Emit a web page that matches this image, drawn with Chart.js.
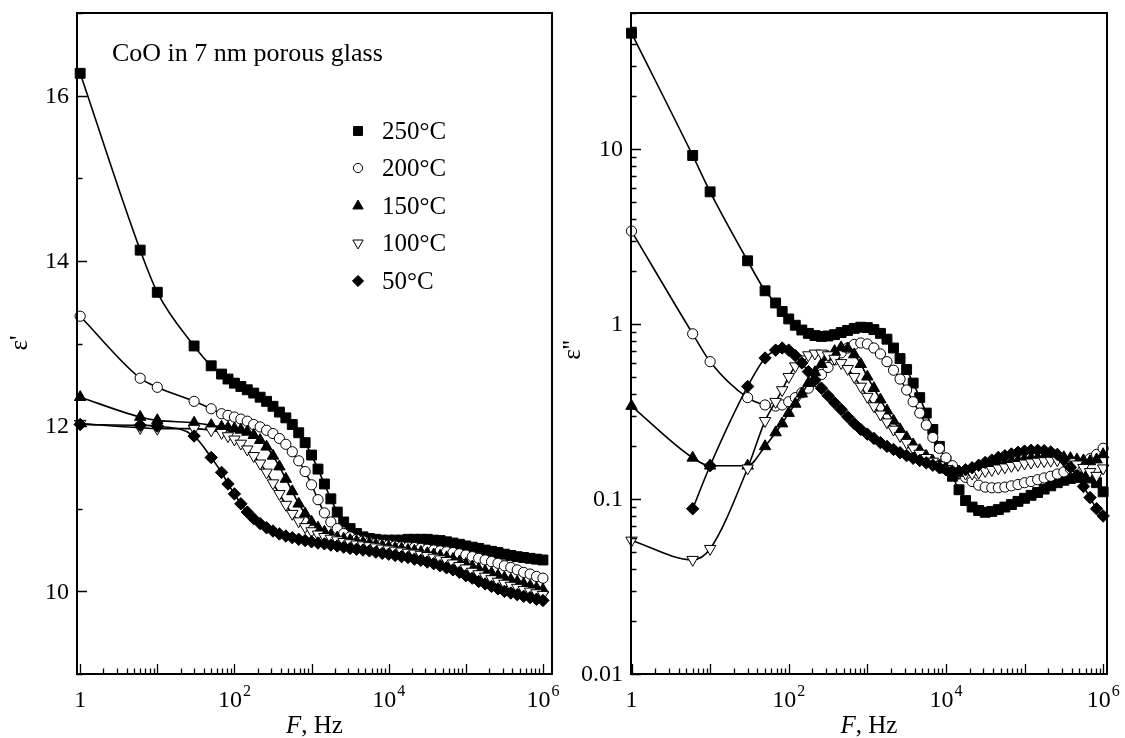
<!DOCTYPE html>
<html>
<head>
<meta charset="utf-8">
<script src="https://cdn.jsdelivr.net/npm/chart.js@4/dist/chart.umd.min.js"></script>
<style>
body { margin: 0; background: #fff; width: 1125px; height: 738px; overflow: hidden; position: relative; }
#c1 { position: absolute; left: 0; top: 0; }
#c2 { position: absolute; left: 560px; top: 0; }
</style>
</head>
<body>
<canvas id="c1" width="560" height="738"></canvas>
<canvas id="c2" width="565" height="738"></canvas>
<script>
// frequencies, Hz: 5 sparse points, then 12 per decade
const freq = [1, 6, 10, 30, 50,
  68.13, 82.54,
  100, 121.2, 146.8, 177.8, 215.4, 261.0, 316.2, 383.1, 464.2, 562.3, 681.3, 825.4,
  1000, 1212, 1468, 1778, 2154, 2610, 3162, 3831, 4642, 5623, 6813, 8254,
  10000, 12115, 14678, 17783, 21544, 26102, 31623, 38312, 46416, 56234, 68129, 82540,
  100000, 121153, 146780, 177828, 215443, 261016, 316228, 383119, 464159, 562341, 681292, 825404,
  1000000];

const seriesNames = ['250°C', '200°C', '150°C', '100°C', '50°C'];

// eps' (left panel)
const eps1_250 = [16.27, 14.13, 13.62, 12.97, 12.73,
  12.63, 12.57,
  12.52, 12.48, 12.44, 12.40, 12.35, 12.30, 12.24, 12.17, 12.10, 12.02, 11.92, 11.80,
  11.65, 11.48, 11.30, 11.12, 10.96, 10.84, 10.76, 10.70, 10.66, 10.64, 10.63, 10.62,
  10.62, 10.62, 10.62, 10.63, 10.63, 10.63, 10.63, 10.62, 10.615, 10.60, 10.585, 10.57,
  10.55, 10.535, 10.52, 10.50, 10.485, 10.47, 10.45, 10.435, 10.42, 10.41, 10.40, 10.39,
  10.38];
const eps1_200 = [13.33, 12.58, 12.47, 12.30, 12.21,
  12.15, 12.13,
  12.11, 12.085, 12.06, 12.02, 11.99, 11.95, 11.91, 11.85, 11.78, 11.69, 11.58, 11.45,
  11.29, 11.11, 10.95, 10.84, 10.76, 10.70, 10.66, 10.63, 10.61, 10.59, 10.58, 10.57,
  10.56, 10.55, 10.54, 10.535, 10.53, 10.52, 10.51, 10.50, 10.49, 10.48, 10.47, 10.455,
  10.44, 10.42, 10.40, 10.38, 10.36, 10.34, 10.31, 10.29, 10.26, 10.23, 10.21, 10.18,
  10.16];
const eps1_150 = [12.35, 12.11, 12.07, 12.04, 12.01,
  11.99, 11.98,
  11.97, 11.955, 11.93, 11.89, 11.83, 11.75, 11.64, 11.51, 11.36, 11.21, 11.06, 10.94,
  10.84, 10.77, 10.72, 10.68, 10.65, 10.635, 10.62, 10.605, 10.59, 10.58, 10.565, 10.55,
  10.54, 10.525, 10.515, 10.50, 10.49, 10.475, 10.46, 10.445, 10.43, 10.41, 10.39, 10.36,
  10.33, 10.30, 10.27, 10.245, 10.22, 10.19, 10.165, 10.14, 10.115, 10.09, 10.065, 10.04,
  10.02];
const eps1_100 = [12.03, 11.98, 11.97, 11.97, 11.95,
  11.92, 11.88,
  11.84, 11.79, 11.72, 11.64, 11.55, 11.44, 11.31, 11.18, 11.05, 10.94, 10.85, 10.78,
  10.73, 10.69, 10.66, 10.64, 10.62, 10.60, 10.585, 10.57, 10.56, 10.55, 10.535, 10.52,
  10.51, 10.495, 10.485, 10.47, 10.46, 10.445, 10.43, 10.41, 10.39, 10.37, 10.34, 10.31,
  10.28, 10.24, 10.21, 10.18, 10.15, 10.12, 10.095, 10.07, 10.045, 10.02, 10.00, 9.98,
  9.96];
const eps1_50 = [12.02, 12.01, 12.00, 11.88, 11.62,
  11.44, 11.30,
  11.18, 11.06, 10.96, 10.88, 10.82, 10.77, 10.73, 10.695, 10.67, 10.65, 10.63, 10.615,
  10.60, 10.585, 10.575, 10.56, 10.55, 10.535, 10.52, 10.51, 10.50, 10.49, 10.475, 10.46,
  10.45, 10.435, 10.42, 10.41, 10.39, 10.375, 10.355, 10.335, 10.31, 10.285, 10.26, 10.23,
  10.19, 10.16, 10.12, 10.09, 10.06, 10.03, 10.00, 9.98, 9.96, 9.94, 9.925, 9.905,
  9.89];

// eps'' (right panel)
const eps2_250 = [46, 9.2, 5.7, 2.3, 1.55,
  1.32, 1.18,
  1.07, 0.985, 0.925, 0.885, 0.86, 0.85, 0.855, 0.87, 0.895, 0.92, 0.945, 0.96,
  0.955, 0.93, 0.885, 0.82, 0.73, 0.635, 0.55, 0.46, 0.38, 0.31, 0.25, 0.20,
  0.165, 0.135, 0.113, 0.098, 0.09, 0.086, 0.084, 0.085, 0.087, 0.09, 0.093, 0.097,
  0.101, 0.105, 0.109, 0.114, 0.119, 0.124, 0.128, 0.131, 0.133, 0.134, 0.132, 0.124,
  0.11];
const eps2_200 = [3.4, 0.88, 0.61, 0.38, 0.345,
  0.34, 0.345,
  0.36, 0.38, 0.405, 0.43, 0.47, 0.515, 0.565, 0.625, 0.685, 0.73, 0.765, 0.78,
  0.77, 0.73, 0.675, 0.61, 0.545, 0.485, 0.42, 0.36, 0.31, 0.265, 0.225, 0.195,
  0.172, 0.155, 0.142, 0.133, 0.126, 0.12, 0.117, 0.116, 0.116, 0.117, 0.119, 0.121,
  0.124, 0.126, 0.129, 0.132, 0.135, 0.139, 0.143, 0.149, 0.155, 0.162, 0.17, 0.18,
  0.195];
const eps2_150 = [0.34, 0.172, 0.155, 0.155, 0.20,
  0.24, 0.27,
  0.31, 0.35, 0.40, 0.46, 0.53, 0.59, 0.65, 0.70, 0.735, 0.725, 0.67, 0.59,
  0.50, 0.43, 0.37, 0.32, 0.28, 0.25, 0.225, 0.205, 0.19, 0.176, 0.165, 0.155,
  0.147, 0.142, 0.141, 0.143, 0.145, 0.148, 0.151, 0.155, 0.158, 0.161, 0.164, 0.166,
  0.169, 0.171, 0.172, 0.174, 0.175, 0.175, 0.173, 0.171, 0.168, 0.166, 0.164, 0.168,
  0.18];
const eps2_100 = [0.058, 0.045, 0.052, 0.15, 0.28,
  0.36, 0.42,
  0.50, 0.575, 0.63, 0.665, 0.68, 0.68, 0.665, 0.635, 0.60, 0.555, 0.50, 0.44,
  0.385, 0.34, 0.305, 0.275, 0.25, 0.23, 0.21, 0.195, 0.182, 0.172, 0.164, 0.156,
  0.149, 0.144, 0.141, 0.14, 0.14, 0.142, 0.145, 0.147, 0.15, 0.152, 0.155, 0.157,
  0.16, 0.162, 0.164, 0.165, 0.166, 0.167, 0.166, 0.163, 0.158, 0.151, 0.143, 0.136,
  0.15];
const eps2_50 = [null, 0.088, 0.155, 0.44, 0.64,
  0.71, 0.73,
  0.71, 0.66, 0.60, 0.535, 0.48, 0.43, 0.39, 0.355, 0.325, 0.295, 0.27, 0.25,
  0.235, 0.222, 0.21, 0.20, 0.192, 0.184, 0.177, 0.171, 0.166, 0.161, 0.156, 0.151,
  0.147, 0.144, 0.144, 0.147, 0.151, 0.156, 0.162, 0.167, 0.173, 0.177, 0.181, 0.185,
  0.188, 0.19, 0.19, 0.189, 0.186, 0.18, 0.168, 0.152, 0.135, 0.118, 0.102, 0.088,
  0.08];

// tick labels
const xTickVals = [1, 100, 1e4, 1e6];
const xTickExp = ['', '2', '4', '6'];
const eps1TickVals = [10, 12, 14, 16];
const eps2TickVals = [0.01, 0.1, 1, 10];
const eps2TickText = ['0.01', '0.1', '1', '10'];

const marks = [
  {pointStyle: 'rect', radius: 7, rotation: 0, fill: '#000'},
  {pointStyle: 'circle', radius: 5.1, rotation: 0, fill: '#fff'},
  {pointStyle: 'triangle', radius: 6.6, rotation: 0, fill: '#000'},
  {pointStyle: 'triangle', radius: 6.6, rotation: 180, fill: '#fff'},
  {pointStyle: 'rectRot', radius: 6.2, rotation: 0, fill: '#000'}
];

const serif = '"Liberation Serif", "Times New Roman", serif';
const tickFont = '24px ' + serif;
const expFont = '16px ' + serif;

function makeSets(all) {
  return all.map(function (vals, k) {
    return {
      label: seriesNames[k],
      data: freq.map(function (f, i) { return {x: f, y: vals[i]}; }),
      borderColor: '#000',
      borderWidth: 1.6,
      pointStyle: marks[k].pointStyle,
      pointRadius: marks[k].radius,
      pointRotation: marks[k].rotation,
      pointBackgroundColor: marks[k].fill,
      pointBorderColor: '#000',
      pointBorderWidth: 1,
      cubicInterpolationMode: 'monotone',
      clip: false,
      order: 5 - k
    };
  });
}

function minorVals(lo, hi) {
  const out = [];
  for (let e = -3; e <= 7; e++) {
    for (let m = 1; m <= 9; m++) {
      const v = m * Math.pow(10, e);
      if (v >= lo && v <= hi) out.push({v: v, major: m === 1});
    }
  }
  return out;
}

// frame, inward ticks, labels and titles
function decor(cfg) {
  return {
    id: 'decor',
    afterDraw: function (chart) {
      const ctx = chart.ctx, a = chart.chartArea;
      const xs = chart.scales.x, ys = chart.scales.y;
      ctx.save();
      ctx.strokeStyle = '#000';
      ctx.fillStyle = '#000';
      ctx.lineWidth = 2;
      ctx.strokeRect(a.left, a.top, a.right - a.left, a.bottom - a.top);

      ctx.lineWidth = 1.3;
      ctx.beginPath();
      minorVals(xs.min, xs.max).forEach(function (t) {
        const px = Math.round(xs.getPixelForValue(t.v)) + 0.5;
        ctx.moveTo(px, a.bottom);
        ctx.lineTo(px, a.bottom - (t.major ? 10 : 5.5));
      });
      cfg.yTicks(ys.min, ys.max).forEach(function (t) {
        const py = Math.round(ys.getPixelForValue(t.v)) + 0.5;
        ctx.moveTo(a.left, py);
        ctx.lineTo(a.left + (t.major ? 10 : 5.5), py);
      });
      ctx.stroke();

      // x tick labels
      ctx.textBaseline = 'alphabetic';
      ctx.textAlign = 'left';
      xTickVals.forEach(function (v, i) {
        const px = xs.getPixelForValue(v);
        const base = i === 0 ? '1' : '10';
        ctx.font = tickFont;
        const wb = ctx.measureText(base).width;
        ctx.font = expFont;
        const we = xTickExp[i] ? ctx.measureText(xTickExp[i]).width + 1 : 0;
        const x0 = px - (wb + we) / 2;
        ctx.font = tickFont;
        ctx.fillText(base, x0, 707);
        if (xTickExp[i]) {
          ctx.font = expFont;
          ctx.fillText(xTickExp[i], x0 + wb + 1, 696);
        }
      });

      // y tick labels
      ctx.font = tickFont;
      ctx.textAlign = 'right';
      ctx.textBaseline = 'middle';
      cfg.yLabelVals.forEach(function (v, i) {
        ctx.fillText(cfg.yLabelText[i], a.left - 8, ys.getPixelForValue(v) + 1);
      });

      // x title: italic F
      ctx.textBaseline = 'alphabetic';
      ctx.textAlign = 'left';
      const cx = (a.left + a.right) / 2;
      ctx.font = 'italic 25px ' + serif;
      const wF = ctx.measureText('F').width;
      ctx.font = '25px ' + serif;
      const wR = ctx.measureText(', Hz').width;
      ctx.font = 'italic 25px ' + serif;
      ctx.fillText('F', cx - (wF + wR) / 2, 733);
      ctx.font = '25px ' + serif;
      ctx.fillText(', Hz', cx - (wF + wR) / 2 + wF, 733);

      // y title, rotated
      ctx.save();
      ctx.translate(cfg.yTitleX, cfg.yTitleY);
      ctx.rotate(-Math.PI / 2);
      ctx.textAlign = 'center';
      ctx.textBaseline = 'middle';
      ctx.font = '25px ' + serif;
      ctx.fillText(cfg.yTitle, 0, 0);
      ctx.restore();

      if (cfg.legend) {
        ctx.font = '26px ' + serif;
        ctx.textAlign = 'left';
        ctx.fillText('CoO in 7 nm porous glass', 112, 61);
        ctx.font = '25px ' + serif;
        const rows = [131, 168, 206, 243, 281];
        ctx.textBaseline = 'middle';
        seriesNames.forEach(function (name, k) {
          ctx.fillStyle = marks[k].fill;
          ctx.strokeStyle = '#000';
          ctx.lineWidth = 1;
          Chart.helpers.drawPoint(ctx, {
            pointStyle: marks[k].pointStyle,
            radius: marks[k].radius * 0.9,
            rotation: marks[k].rotation,
            borderWidth: 1
          }, 358, rows[k]);
          ctx.fillStyle = '#000';
          ctx.fillText(name, 382, rows[k] + 1);
        });
      }
      ctx.restore();
    }
  };
}

function baseOptions(xMin, xMax, yScale, yWidth, padRight) {
  return {
    responsive: false,
    animation: false,
    devicePixelRatio: 1,
    layout: {padding: {left: 0, right: padRight, top: 13, bottom: 0}},
    plugins: {legend: {display: false}, tooltip: {enabled: false}},
    scales: {
      x: {
        type: 'logarithmic', min: xMin, max: xMax,
        ticks: {display: false}, grid: {display: false}, border: {display: false},
        afterFit: function (s) { s.height = 64; }
      },
      y: Object.assign({
        ticks: {display: false}, grid: {display: false}, border: {display: false},
        afterFit: function (s) { s.width = yWidth; }
      }, yScale)
    }
  };
}

new Chart(document.getElementById('c1'), {
  type: 'line',
  data: {datasets: makeSets([eps1_250, eps1_200, eps1_150, eps1_100, eps1_50])},
  options: baseOptions(0.91, 1.31e6, {type: 'linear', min: 9, max: 17}, 77, 8),
  plugins: [decor({
    yTicks: function (lo, hi) {
      const out = [];
      for (let v = Math.ceil(lo); v <= hi; v++) out.push({v: v, major: v % 2 === 0});
      return out;
    },
    yLabelVals: eps1TickVals,
    yLabelText: eps1TickVals.map(String),
    yTitle: "ε'",
    yTitleX: 20, yTitleY: 343,
    legend: true
  })]
});

new Chart(document.getElementById('c2'), {
  type: 'line',
  data: {datasets: makeSets([eps2_250, eps2_200, eps2_150, eps2_100, eps2_50])},
  options: baseOptions(0.985, 1.12e6, {type: 'logarithmic', min: 0.01, max: 60}, 71, 18),
  plugins: [decor({
    yTicks: minorVals,
    yLabelVals: eps2TickVals,
    yLabelText: eps2TickText,
    yTitle: "ε''",
    yTitleX: 13, yTitleY: 350,
    legend: false
  })]
});
</script>
</body>
</html>
